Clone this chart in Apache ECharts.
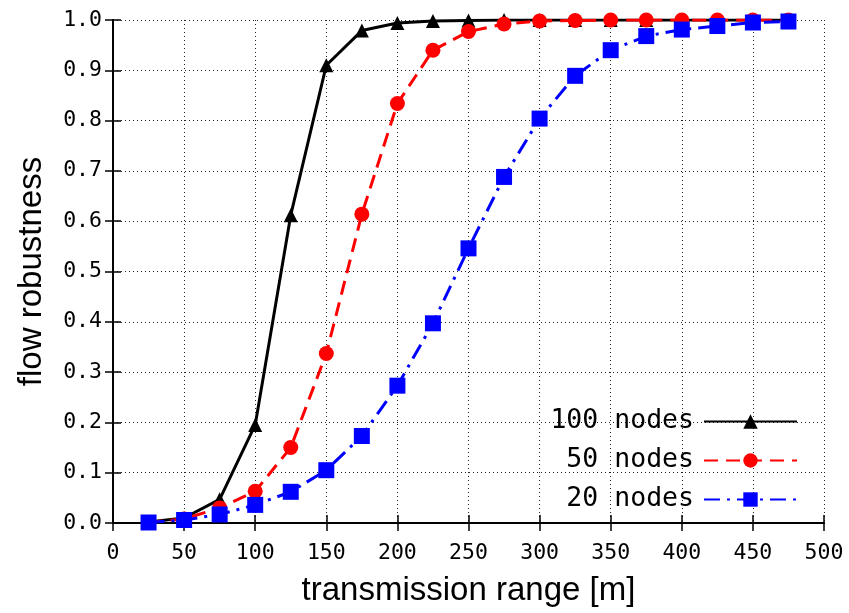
<!DOCTYPE html>
<html>
<head>
<meta charset="utf-8">
<script src="https://cdn.jsdelivr.net/npm/echarts@6/dist/echarts.min.js"></script>
<style>html,body{margin:0;padding:0;background:#fff;}#c{width:849px;height:613px;}</style>
</head>
<body>
<div id="c"></div>
<script>
var xValues = [25, 50, 75, 100, 125, 150, 175, 200, 225, 250, 275, 300, 325, 350, 375, 400, 425, 450, 475];
var nodes100 = [0.002, 0.010, 0.047, 0.195, 0.612, 0.910, 0.979, 0.994, 0.998, 0.999, 1.0, 1.0, 1.0, 1.0, 1.0, 1.0, 1.0, 1.0, 1.0];
var nodes50 = [0.001, 0.008, 0.030, 0.063, 0.150, 0.337, 0.614, 0.834, 0.940, 0.977, 0.992, 0.998, 0.999, 1.0, 1.0, 1.0, 1.0, 1.0, 1.0];
var nodes20 = [0.001, 0.006, 0.017, 0.036, 0.062, 0.105, 0.173, 0.273, 0.397, 0.546, 0.688, 0.804, 0.889, 0.940, 0.968, 0.981, 0.988, 0.995, 0.997];
var seriesNames = ['100 nodes', '50 nodes', '20 nodes'];
var xTickLabels = ['0', '50', '100', '150', '200', '250', '300', '350', '400', '450', '500'];
var yTickLabels = ['0.0', '0.1', '0.2', '0.3', '0.4', '0.5', '0.6', '0.7', '0.8', '0.9', '1.0'];

function pairs(ys) { return xValues.map(function (x, i) { return [x, ys[i]]; }); }

var mono = 'DejaVu Sans Mono';
var sans = 'Liberation Sans';
var gridLine = { show: true, lineStyle: { color: '#222', width: 1, type: [1, 3] } };
var axLine = { show: true, lineStyle: { color: '#000', width: 1.8 } };
var tick = { show: true, inside: true, length: 8, lineStyle: { color: '#000', width: 1.5 } };

var chart = echarts.init(document.getElementById('c'), null, { renderer: 'canvas' });
chart.setOption({
  animation: false,
  backgroundColor: '#fff',
  grid: { left: 113, top: 20, right: 25, bottom: 90, containLabel: false },
  legend: {
    orient: 'vertical',
    right: 46,
    top: 403,
    align: 'right',
    itemWidth: 93,
    itemHeight: 18,
    itemGap: 12,
    data: seriesNames,
    textStyle: { fontFamily: mono, fontSize: 26.5, color: '#000', padding: [0, 5, 0, 0] }
  },
  xAxis: [{
    type: 'value', min: 0, max: 500, interval: 50, position: 'bottom',
    name: 'transmission range [m]', nameLocation: 'middle', nameGap: 51,
    nameTextStyle: { fontFamily: sans, fontSize: 33, color: '#000' },
    axisLine: axLine, axisTick: tick, splitLine: gridLine,
    axisLabel: { fontFamily: mono, fontSize: 21.5, color: '#000', margin: 19,
      formatter: function (v) { return xTickLabels[Math.round(v / 50)]; } }
  }, {
    type: 'value', min: 0, max: 500, interval: 50, position: 'top',
    axisLine: axLine, axisTick: tick, splitLine: { show: false }, axisLabel: { show: false }
  }],
  yAxis: [{
    type: 'value', min: 0, max: 1, interval: 0.1, position: 'left',
    name: 'flow robustness', nameLocation: 'middle', nameGap: 65,
    nameTextStyle: { fontFamily: sans, fontSize: 33, color: '#000' },
    axisLine: axLine, axisTick: tick, splitLine: gridLine,
    axisLabel: { fontFamily: mono, fontSize: 21.5, color: '#000', margin: 11,
      formatter: function (v) { return yTickLabels[Math.round(v * 10)]; } }
  }, {
    type: 'value', min: 0, max: 1, interval: 0.1, position: 'right',
    axisLine: axLine, axisTick: tick, splitLine: { show: false }, axisLabel: { show: false }
  }],
  series: [{
    name: seriesNames[0], type: 'line', data: pairs(nodes100),
    symbol: 'triangle', symbolSize: 14,
    lineStyle: { color: '#000', width: 3, type: 'solid' },
    itemStyle: { color: '#000' }
  }, {
    name: seriesNames[1], type: 'line', data: pairs(nodes50),
    symbol: 'circle', symbolSize: 15,
    lineStyle: { color: '#ff0000', width: 3, type: [14, 8] },
    itemStyle: { color: '#ff0000' }
  }, {
    name: seriesNames[2], type: 'line', data: pairs(nodes20),
    symbol: 'rect', symbolSize: 16,
    lineStyle: { color: '#0000ff', width: 3, type: [16, 7, 3, 7] },
    itemStyle: { color: '#0000ff' }
  }]
});
</script>
</body>
</html>
